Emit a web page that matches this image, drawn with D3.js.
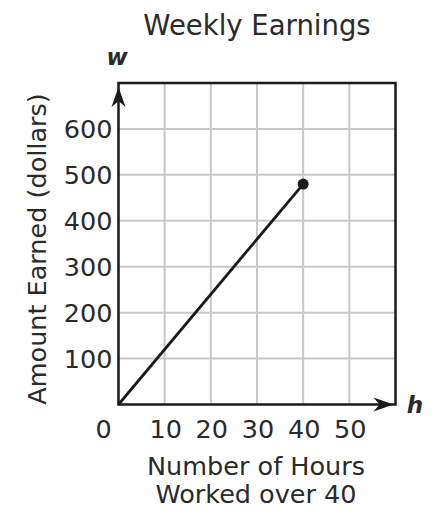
<!DOCTYPE html>
<html><head><meta charset="utf-8">
<script src="https://cdn.jsdelivr.net/npm/d3@7"></script>
<style>body{margin:0;background:#fff}svg{display:block}text{font-family:"DejaVu Sans",Verdana,sans-serif;fill:#2a2a2a}</style>
</head><body>
<svg id="c" width="448" height="518"></svg>
<script>
const title = "Weekly Earnings";
const xLabelLines = ["Number of Hours", "Worked over 40"];
const yLabel = "Amount Earned (dollars)";
const xTicks = [10, 20, 30, 40, 50];
const yTicks = [100, 200, 300, 400, 500, 600];
const xGrid = [10, 20, 30, 40, 50];
const yGrid = [100, 200, 300, 400, 500, 600];
const hours = [0, 40];
const earnings = [0, 480];

const svg = d3.select("#c");
const L = 118.5, R = 395.5, T = 83, B = 404.5;
const x = d3.scaleLinear().domain([0, 60]).range([L, R]);
const y = d3.scaleLinear().domain([0, 700]).range([B, T]);

// grid
svg.append("g").selectAll("line").data(xGrid).join("line")
  .attr("x1", d => x(d)).attr("x2", d => x(d)).attr("y1", T).attr("y2", B)
  .attr("stroke", "#c8c8c8").attr("stroke-width", 2);
svg.append("g").selectAll("line").data(yGrid).join("line")
  .attr("y1", d => y(d)).attr("y2", d => y(d)).attr("x1", L).attr("x2", R)
  .attr("stroke", "#c8c8c8").attr("stroke-width", 2);

// border
svg.append("rect").attr("x", L).attr("y", T).attr("width", R - L).attr("height", B - T)
  .attr("fill", "none").attr("stroke", "#1a1a1a").attr("stroke-width", 2.5);

// arrowheads
function arrow(tx, ty, dir) {
  const len = 20, hw = 7, back = 6;
  let pts;
  if (dir === "up") pts = [[tx, ty], [tx + hw, ty + len], [tx, ty + len - back], [tx - hw, ty + len]];
  else pts = [[tx, ty], [tx - len, ty - hw], [tx - len + back, ty], [tx - len, ty + hw]];
  svg.append("path").attr("d", "M" + pts.map(p => p.join(",")).join("L") + "Z").attr("fill", "#1a1a1a");
}
arrow(L, T + 4, "up");
arrow(R - 2, B, "right");

const fs = 25.5;
// tick labels
svg.append("g").selectAll("text").data(yTicks).join("text")
  .attr("x", L - 6).attr("y", d => y(d)).attr("dy", "0.36em")
  .attr("text-anchor", "end").attr("font-size", fs).text(d => d);
svg.append("g").selectAll("text").data(xTicks).join("text")
  .attr("x", d => x(d) + 1).attr("y", 438)
  .attr("text-anchor", "middle").attr("font-size", fs).text(d => d);
svg.append("text").attr("x", x(0) - 15).attr("y", 438)
  .attr("text-anchor", "middle").attr("font-size", fs).text("0");

// axis variable labels
svg.append("text").attr("x", 117).attr("y", 65).attr("text-anchor", "middle")
  .attr("font-size", 23).attr("font-weight", "bold").attr("font-style", "italic").text("w");
svg.append("text").attr("x", 415).attr("y", 413).attr("text-anchor", "middle")
  .attr("font-size", 23).attr("font-weight", "bold").attr("font-style", "italic").text("h");

// title
svg.append("text").attr("x", 257).attr("y", 35).attr("text-anchor", "middle")
  .attr("font-size", 27.5).text(title);

// x label
svg.append("g").selectAll("text").data(xLabelLines).join("text")
  .attr("x", 256).attr("y", (d, i) => 475 + i * 28)
  .attr("text-anchor", "middle").attr("font-size", fs).text(d => d);

// y label
svg.append("text").attr("transform", "translate(46,249) rotate(-90)")
  .attr("text-anchor", "middle").attr("font-size", fs).text(yLabel);

// data line
const pts = hours.map((h, i) => [h, earnings[i]]);
svg.append("path").datum(pts)
  .attr("d", d3.line().x(d => x(d[0])).y(d => y(d[1])))
  .attr("fill", "none").attr("stroke", "#1a1a1a").attr("stroke-width", 2.8);
svg.append("circle").attr("cx", x(hours[1])).attr("cy", y(earnings[1])).attr("r", 5.5).attr("fill", "#1a1a1a");
</script>
</body></html>
